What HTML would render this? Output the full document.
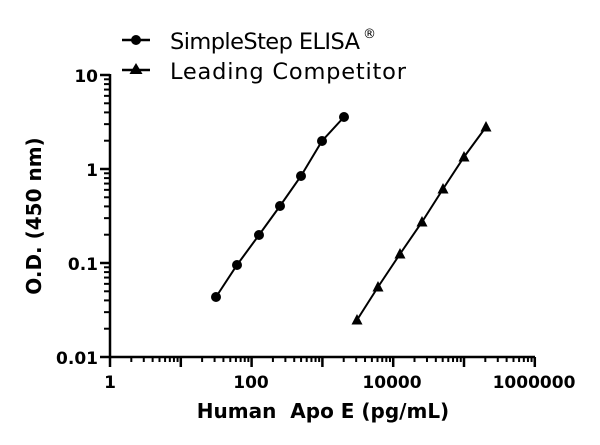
<!DOCTYPE html>
<html><head><style>body{margin:0;background:#fff}svg{display:block}text{font-family:"DejaVu Sans","Liberation Sans",sans-serif}</style></head>
<body>
<svg id="s" width="600" height="445" xmlns="http://www.w3.org/2000/svg">
<g id="g" stroke="#000" fill="none"></g>
<g font-size="17" font-weight="bold" text-anchor="end" fill="#000">
<text x="98" y="82">10</text><text x="98" y="176">1</text><text x="98" y="270">0.1</text><text x="98" y="364">0.01</text>
</g>
<g font-size="17" font-weight="bold" text-anchor="middle" fill="#000">
<text x="110" y="388">1</text><text x="251" y="388">100</text><text x="392" y="388">10000</text><text x="534" y="388">1000000</text>
<text x="323" y="418" font-size="20">Human&#160;&#160;Apo E (pg/mL)</text>
<text transform="translate(41,216) rotate(-90)" font-size="20">O.D. (450 nm)</text>
</g>
<g fill="#000" font-size="22.5">
<text x="170" y="49" textLength="190">SimpleStep ELISA</text><text x="363" y="38" font-size="13">®</text>
<text x="170" y="79" textLength="236">Leading Competitor</text>
</g>
<line x1="122" y1="40" x2="150" y2="40" stroke="#000" stroke-width="2.5"/>
<circle cx="136" cy="40" r="5" fill="#000"/>
<line x1="122" y1="70" x2="150" y2="70" stroke="#000" stroke-width="2.5"/>
<polygon points="136,63 142.5,74 129.5,74" fill="#000"/>
</svg>
<script>
var g=document.getElementById('g'),s=document.getElementById('s'),ns="http://www.w3.org/2000/svg";
function L(a,b,c,d,w){var l=document.createElementNS(ns,'line');l.setAttribute('x1',a);l.setAttribute('y1',b);l.setAttribute('x2',c);l.setAttribute('y2',d);l.setAttribute('stroke-width',w||2.5);g.appendChild(l);}
function X(v){return 110+70.8*Math.log10(v);}function Y(v){return 357-94*(Math.log10(v)+2);}
L(110,74,110,358);L(109,357,535,357);
for(var e=-2;e<=1;e++){L(100,Y(Math.pow(10,e)),110,Y(Math.pow(10,e)));if(e<1)for(var k=2;k<10;k++)L(104,Y(k*Math.pow(10,e)),110,Y(k*Math.pow(10,e)),2);}
for(var e=0;e<=6;e++){L(X(Math.pow(10,e)),357,X(Math.pow(10,e)),367);if(e<6)for(var k=2;k<10;k++)L(X(k*Math.pow(10,e)),357,X(k*Math.pow(10,e)),362,2);}
var A=[[216,297],[237,265],[259,235],[280,206],[301,176],[322,141],[344,117]];
var B=[[357,320],[378,287],[400,254],[422,222],[443,189],[464,157],[486,127]];
function P(pts){var p=document.createElementNS(ns,'polyline');p.setAttribute('points',pts.map(function(q){return q.join(',')}).join(' '));p.setAttribute('stroke-width',2);g.appendChild(p);}
P(A);P(B);
A.forEach(function(q){var c=document.createElementNS(ns,'circle');c.setAttribute('cx',q[0]);c.setAttribute('cy',q[1]);c.setAttribute('r',5);c.setAttribute('fill','#000');s.appendChild(c);});
B.forEach(function(q){var c=document.createElementNS(ns,'polygon');c.setAttribute('points',q[0]+','+(q[1]-6)+' '+(q[0]+5.5)+','+(q[1]+4.5)+' '+(q[0]-5.5)+','+(q[1]+4.5));c.setAttribute('fill','#000');s.appendChild(c);});
</script>
</body></html>
